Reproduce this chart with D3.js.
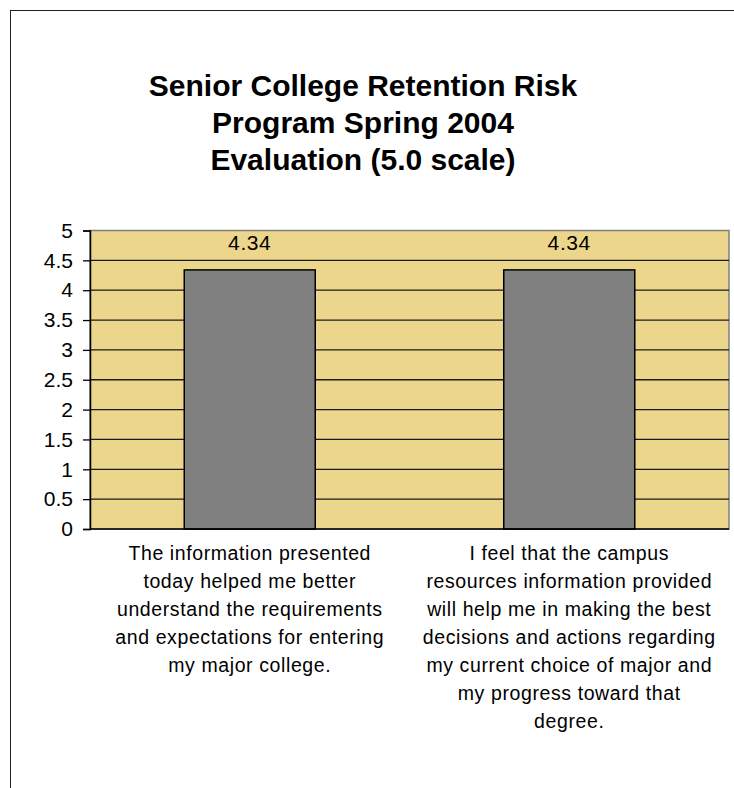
<!DOCTYPE html>
<html>
<head>
<meta charset="utf-8">
<script src="https://cdn.jsdelivr.net/npm/d3@7"></script>
<style>
  body { margin: 0; background: #fff; }
  text { font-family: Arial, "Liberation Sans", sans-serif; }
</style>
</head>
<body>
<svg id="chart" width="734" height="788"></svg>
<script>
// chart data
var titleLines = ["Senior College Retention Risk", "Program Spring 2004", "Evaluation (5.0 scale)"];
var categories = ["q1", "q2"];
var values = [4.34, 4.34];
var categoryLabels = [
  ["The information presented", "today helped me better", "understand the requirements", "and expectations for entering", "my major college."],
  ["I feel that the campus", "resources information provided", "will help me in making the best", "decisions and actions regarding", "my current choice of major and", "my progress toward that", "degree."]
];
var yTicks = [0, 0.5, 1, 1.5, 2, 2.5, 3, 3.5, 4, 4.5, 5];

var svg = d3.select('#chart');

// outer chart border (runs off the right / bottom edge)
svg.append('rect')
  .attr('x', 10.5).attr('y', 10.5)
  .attr('width', 800).attr('height', 800)
  .attr('fill', 'none')
  .attr('stroke', '#222')
  .attr('stroke-width', 1);

// title
svg.append('g').selectAll('text')
  .data(titleLines)
  .enter().append('text')
  .attr('x', 363)
  .attr('y', (d, i) => 96 + i * 37)
  .attr('text-anchor', 'middle')
  .attr('font-size', 30)
  .attr('font-weight', 'bold')
  .attr('fill', '#000')
  .text(d => d);

var pLeft = 90, pRight = 729, pTop = 230.5, pBottom = 529;

var x = d3.scaleBand().domain(categories).range([pLeft, pRight]).padding(0);
var y = d3.scaleLinear().domain([0, 5]).range([pBottom, pTop]);

// plot area
svg.append('rect')
  .attr('x', pLeft).attr('y', pTop)
  .attr('width', pRight - pLeft).attr('height', pBottom - pTop)
  .attr('fill', '#ECD68B')
  .attr('stroke', '#808080')
  .attr('stroke-width', 1.5);

// gridlines
svg.append('g').selectAll('line')
  .data(yTicks.filter(t => t > 0 && t < 5))
  .enter().append('line')
  .attr('x1', pLeft).attr('x2', pRight)
  .attr('y1', d => y(d)).attr('y2', d => y(d))
  .attr('stroke', '#1a1a1a')
  .attr('stroke-width', 1.3);

// bars
var barW = x.bandwidth() * 0.41;
svg.append('g').selectAll('rect')
  .data(values)
  .enter().append('rect')
  .attr('x', (d, i) => x(categories[i]) + (x.bandwidth() - barW) / 2)
  .attr('y', d => y(d))
  .attr('width', barW)
  .attr('height', d => y(0) - y(d))
  .attr('fill', '#808080')
  .attr('stroke', '#000')
  .attr('stroke-width', 1.5);

// value labels
svg.append('g').selectAll('text')
  .data(values)
  .enter().append('text')
  .attr('x', (d, i) => x(categories[i]) + x.bandwidth() / 2)
  .attr('y', d => y(d) - 20)
  .attr('text-anchor', 'middle')
  .attr('font-size', 21)
  .attr('letter-spacing', 0.6)
  .attr('fill', '#000')
  .text(d => d.toFixed(2));

// y axis
var yAxis = svg.append('g')
  .attr('transform', `translate(${pLeft},0)`)
  .call(d3.axisLeft(y).tickValues(yTicks).tickSize(7).tickPadding(10).tickFormat(d3.format('')));
yAxis.select('.domain').attr('stroke', '#000').attr('stroke-width', 1.5);
yAxis.selectAll('.tick line').attr('stroke', '#000').attr('stroke-width', 1.3);
yAxis.selectAll('.tick text')
  .attr('font-size', 21)
  .attr('font-family', 'Arial, "Liberation Sans", sans-serif')
  .attr('fill', '#000');

// x axis line
svg.append('line')
  .attr('x1', pLeft).attr('x2', pRight)
  .attr('y1', pBottom).attr('y2', pBottom)
  .attr('stroke', '#000')
  .attr('stroke-width', 1.5);

// category labels
var catG = svg.append('g').selectAll('text')
  .data(categoryLabels)
  .enter().append('text')
  .attr('text-anchor', 'middle')
  .attr('font-size', 19.5)
  .attr('letter-spacing', 0.6)
  .attr('fill', '#000');
catG.each(function (lines, i) {
  var cx = x(categories[i]) + x.bandwidth() / 2;
  d3.select(this).selectAll('tspan')
    .data(lines)
    .enter().append('tspan')
    .attr('x', cx)
    .attr('y', (d, j) => 560 + j * 28)
    .text(d => d);
});
</script>
</body>
</html>
